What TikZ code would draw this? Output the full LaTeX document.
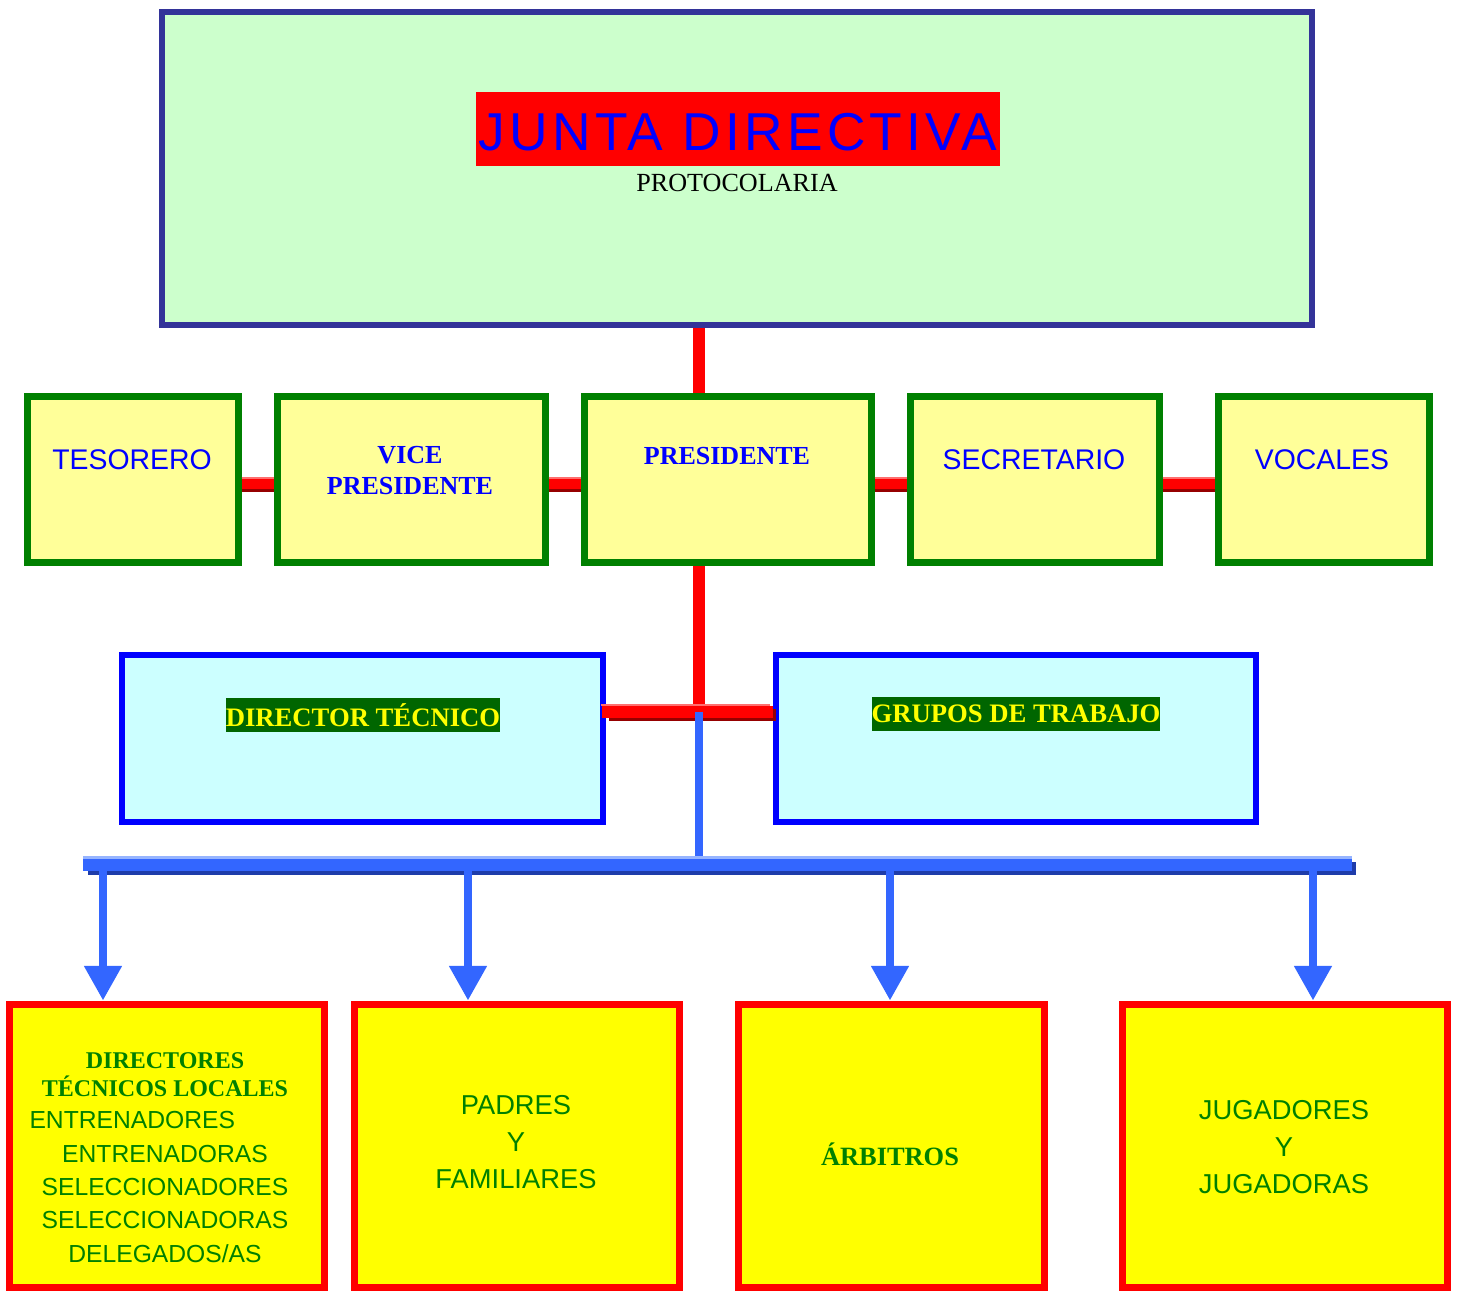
\documentclass[tikz,border=0pt]{standalone}
\usepackage{fontspec}
\setmainfont{Liberation Serif}
\setsansfont{Liberation Sans}
\usetikzlibrary{arrows.meta}

\begin{document}
\begin{tikzpicture}[x=0.75pt,y=0.75pt,yscale=-1,xscale=1,
    juntabox/.style={draw={rgb, 255:red, 51; green, 51; blue, 153 }, line width=4.5pt, fill={rgb, 255:red, 204; green, 255; blue, 204 }, inner sep=0pt},
    cargobox/.style={draw={rgb, 255:red, 0; green, 128; blue, 0 }, line width=5.25pt, fill={rgb, 255:red, 255; green, 255; blue, 153 }, inner sep=0pt, minimum height=124.5pt},
    areabox/.style={draw={rgb, 255:red, 0; green, 0; blue, 255 }, line width=4.5pt, fill={rgb, 255:red, 204; green, 255; blue, 255 }, inner sep=0pt, minimum height=125.25pt},
    basebox/.style={draw={rgb, 255:red, 255; green, 0; blue, 0 }, line width=5.25pt, fill={rgb, 255:red, 255; green, 255; blue, 0 }, inner sep=0pt, minimum height=212.25pt},
    cargosans/.style={text={rgb, 255:red, 0; green, 0; blue, 255 }, font=\sffamily\fontsize{21.3}{25}\selectfont},
    cargoserif/.style={text={rgb, 255:red, 0; green, 0; blue, 255 }, font=\bfseries\fontsize{19.5}{23.25}\selectfont, align=center},
    areatext/.style={text={rgb, 255:red, 255; green, 255; blue, 0 }, fill={rgb, 255:red, 0; green, 102; blue, 0 }, font=\bfseries\fontsize{20}{24}\selectfont, inner xsep=0pt, inner ysep=0pt, minimum height=25.5pt},
    basesans/.style={text={rgb, 255:red, 0; green, 128; blue, 0 }, font=\sffamily\fontsize{20.5}{27.6}\selectfont, align=center},
    baseserif/.style={text={rgb, 255:red, 0; green, 128; blue, 0 }, font=\bfseries\fontsize{19.8}{24}\selectfont, align=center},
    redlink/.style={color={rgb, 255:red, 255; green, 0; blue, 0 }, line width=9pt},
    redshade/.style={color={rgb, 255:red, 150; green, 0; blue, 0 }, line width=9pt},
    redlight/.style={color={rgb, 255:red, 255; green, 110; blue, 110 }, line width=1.5pt},
    bluelink/.style={color={rgb, 255:red, 51; green, 102; blue, 255 }, line width=6pt},
    blueshade/.style={color={rgb, 255:red, 30; green, 60; blue, 170 }, line width=9.75pt},
    bluelight/.style={color={rgb, 255:red, 150; green, 180; blue, 255 }, line width=2.25pt}
    ]
    \useasboundingbox (0,0) rectangle (1461,1290);
    
    % cajas
    \node [juntabox, minimum width=862.5pt, minimum height=234.75pt] (junta) at (737,168.5) {};
    \node [cargobox, minimum width=158.25pt] (tes) at (132.5,479) {};
    \node [cargobox, minimum width=201pt] (vice) at (411,479) {};
    \node [cargobox, minimum width=215.25pt] (pres) at (727.5,479) {};
    \node [cargobox, minimum width=186.75pt] (sec) at (1034.5,479) {};
    \node [cargobox, minimum width=158.25pt] (voc) at (1323.5,479) {};
    \node [areabox, minimum width=360.75pt] (dt) at (362.5,738.5) {};
    \node [areabox, minimum width=360pt] (gt) at (1016,738.5) {};
    \node [basebox, minimum width=236.25pt] (loc) at (166.5,1145.5) {};
    \node [basebox, minimum width=243.75pt] (pad) at (516.5,1145.5) {};
    \node [basebox, minimum width=229.5pt] (arb) at (891,1145.5) {};
    \node [basebox, minimum width=243.75pt] (jug) at (1284.5,1145.5) {};
    
    \coordinate (spine) at (698.5,711.5);
    \coordinate (busL) at (83,864.5);
    \coordinate (busR) at (1352,864.5);
    
    % lineas rojas
    \draw [redlink] (junta.south -| spine) -- (pres.north -| spine);
    \draw [redlink] (pres.south -| spine) -- (spine);
    \foreach \a/\b in {tes/vice, vice/pres, pres/sec, sec/voc}{
    	\draw [redshade] (\a.east |- 0,486) -- (\b.west |- 0,486);
    	\draw [redlink] (\a.east |- 0,483) -- (\b.west |- 0,483);
    	\draw [redlight] (\a.east |- 0,478) -- (\b.west |- 0,478);
    }
    \draw [redshade] ([xshift=2pt]dt.east |- 0,715) -- ([xshift=2pt]gt.west |- 0,715);
    \draw [redlink] ([xshift=-3pt]dt.east |- spine) -- (gt.west |- spine);
    \draw [redlight] ([xshift=-4pt]dt.east |- 0,705) -- ([xshift=-2pt]gt.west |- 0,705);
    
    % lineas azules
    \draw [bluelink] (spine) -- (spine |- busL);
    \draw [blueshade] ([xshift=4pt]busL |- 0,868) -- ([xshift=3pt]busR |- 0,868);
    \draw [bluelink, line width=9.75pt] (busL) -- (busR);
    \draw [bluelight] (busL |- 0,857) -- (busR |- 0,857);
    \foreach \x/\b in {103/loc, 468/pad, 890/arb, 1313/jug}{
    	\draw [bluelink, -{Triangle[width=27pt,length=26pt]}] (\x,871) -- (\x,871 |- \b.north);
    }
    
    % textos
    \node [fill={rgb, 255:red, 255; green, 0; blue, 0 }, text={rgb, 255:red, 0; green, 0; blue, 255 }, font=\sffamily\fontsize{40}{48}\selectfont\addfontfeature{LetterSpace=8}, inner sep=0pt, minimum width=393pt, minimum height=55.5pt, text height=32pt, text depth=0pt] (juntatxt) at (738,129) {JUNTA DIRECTIVA};
    \node [font=\fontsize{19.6}{23}\selectfont] (proto) at (737,183) {PROTOCOLARIA};
    \node [cargosans] (testxt) at (132,460) {TESORERO};
    \node [cargoserif] (vicetxt) at (410,471) {VICE\\PRESIDENTE};
    \node [cargoserif] (prestxt) at (727,456) {PRESIDENTE};
    \node [cargosans] (sectxt) at (1034,460) {SECRETARIO};
    \node [cargosans] (voctxt) at (1322,460) {VOCALES};
    \node [areatext] (dttxt) at (363,715) {DIRECTOR TÉCNICO};
    \node [areatext] (gttxt) at (1016,714) {GRUPOS DE TRABAJO};
    \node [baseserif, font=\bfseries\fontsize{18}{21}\selectfont] (loctxt) at (165,1075) {DIRECTORES\\TÉCNICOS LOCALES};
    \node [basesans, font=\sffamily\fontsize{18.5}{25.1}\selectfont] (enttxt) at (165,1187) {ENTRENADORES\hspace*{49pt}\\ENTRENADORAS\\SELECCIONADORES\\SELECCIONADORAS\\DELEGADOS/AS};
    \node [basesans] (padtxt) at (516,1142) {PADRES\\Y\\FAMILIARES};
    \node [baseserif, anchor=base] (arbtxt) at (890,1165) {ÁRBITROS};
    \node [basesans] (jugtxt) at (1284,1147) {JUGADORES\\Y\\JUGADORAS};
    
\end{tikzpicture}
\end{document}
